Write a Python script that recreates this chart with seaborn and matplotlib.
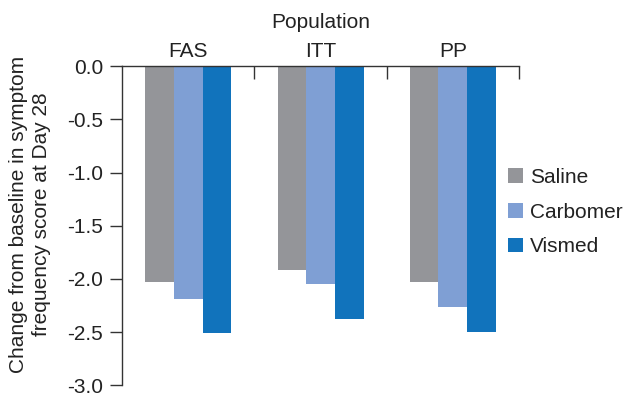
import seaborn as sns
import matplotlib.pyplot as plt
import pandas as pd

populations = ['FAS', 'ITT', 'PP']
treatments = ['Saline', 'Carbomer', 'Vismed']
saline = [-2.03, -1.92, -2.03]
carbomer = [-2.19, -2.05, -2.26]
vismed = [-2.51, -2.38, -2.50]
colors = ['#949599', '#7f9fd4', '#1173bc']
yticks = [0.0, -0.5, -1.0, -1.5, -2.0, -2.5, -3.0]

df = pd.DataFrame({
    'Population': populations * 3,
    'Treatment': [t for t in treatments for _ in populations],
    'Change': saline + carbomer + vismed,
})

sns.set_style('ticks')
plt.rcParams['font.family'] = ['Liberation Sans', 'DejaVu Sans']
fs = 15

fig, ax = plt.subplots(figsize=(6.26, 3.96), dpi=100)
fig.subplots_adjust(left=0.195, right=0.829, top=0.833, bottom=0.027)

sns.barplot(data=df, x='Population', y='Change', hue='Treatment',
            palette=colors, width=0.65, saturation=1, linewidth=0, ax=ax)

ax.set_xlim(-0.5, 2.5)
ax.set_ylim(-3.0, 0.0)
ax.set_yticks(yticks)
ax.set_yticklabels([f'{v:.1f}' for v in yticks], fontsize=fs, color='#222222')

ax.xaxis.tick_top()
ax.xaxis.set_label_position('top')
ax.set_xticks(range(len(populations)))
ax.set_xticklabels(populations, fontsize=fs, color='#222222')
ax.set_xticks([0.5, 1.5, 2.5], minor=True)
ax.tick_params(axis='x', which='major', length=0, pad=4)
ax.tick_params(axis='x', which='minor', top=True, bottom=False,
               direction='in', length=9.5, width=1, color='#333333')
ax.tick_params(axis='y', length=8.5, width=1, pad=5, color='#333333')
ax.set_xlabel('Population', fontsize=fs, labelpad=10, color='#222222')

ax.set_ylabel('Change from baseline in symptom\nfrequency score at Day 28',
              fontsize=fs, va='center', linespacing=1.25, color='#222222')
ax.yaxis.set_label_coords(-0.232, 0.536)

for side in ['bottom', 'right']:
    ax.spines[side].set_visible(False)
for side in ['top', 'left']:
    ax.spines[side].set_color('#333333')
    ax.spines[side].set_linewidth(1)

sns.move_legend(ax, 'center left', bbox_to_anchor=(508 / 626, 1 - 212 / 396),
                bbox_transform=fig.transFigure, frameon=False, title=None,
                fontsize=fs, handlelength=0.7, handleheight=0.7,
                handletextpad=0.35, labelspacing=0.75, borderpad=0,
                borderaxespad=0)
for t in ax.get_legend().get_texts():
    t.set_color('#222222')

fig.savefig('out.png', dpi=100)
